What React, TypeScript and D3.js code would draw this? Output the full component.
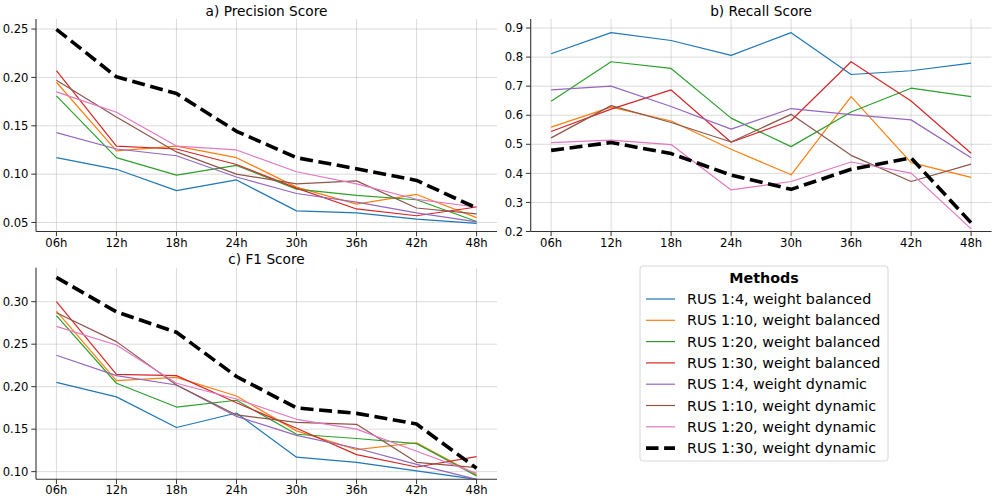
import React from "react";
import * as d3 from "d3";

const hours = ["06h", "12h", "18h", "24h", "30h", "36h", "42h", "48h"];

const methods = [
  "RUS 1:4, weight balanced",
  "RUS 1:10, weight balanced",
  "RUS 1:20, weight balanced",
  "RUS 1:30, weight balanced",
  "RUS 1:4, weight dynamic",
  "RUS 1:10, weight dynamic",
  "RUS 1:20, weight dynamic",
  "RUS 1:30, weight dynamic",
];

const precisionScores = [
  [0.117, 0.105, 0.083, 0.094, 0.062, 0.06, 0.0535, 0.049],
  [0.195, 0.124, 0.129, 0.117, 0.0866, 0.069, 0.079, 0.055],
  [0.181, 0.117, 0.099, 0.109, 0.0845, 0.078, 0.0735, 0.051],
  [0.207, 0.129, 0.126, 0.11, 0.0856, 0.064, 0.057, 0.066],
  [0.143, 0.126, 0.119, 0.097, 0.08, 0.071, 0.06, 0.0507],
  [0.197, 0.159, 0.123, 0.1, 0.09, 0.093, 0.065, 0.059],
  [0.185, 0.164, 0.129, 0.125, 0.1025, 0.09, 0.074, 0.066],
  [0.2497, 0.2006, 0.1833, 0.1443, 0.117, 0.1056, 0.0935, 0.065],
];

const recallScores = [
  [0.8115, 0.884, 0.857, 0.806, 0.884, 0.74, 0.753, 0.779],
  [0.559, 0.628, 0.58, 0.483, 0.395, 0.664, 0.437, 0.386],
  [0.648, 0.784, 0.761, 0.59, 0.492, 0.611, 0.693, 0.664],
  [0.544, 0.621, 0.687, 0.507, 0.582, 0.784, 0.649, 0.469],
  [0.687, 0.7, 0.63, 0.552, 0.623, 0.602, 0.584, 0.454],
  [0.522, 0.633, 0.575, 0.508, 0.603, 0.462, 0.372, 0.432],
  [0.506, 0.514, 0.499, 0.343, 0.372, 0.439, 0.401, 0.209],
  [0.479, 0.506, 0.468, 0.394, 0.345, 0.414, 0.453, 0.23],
];

const f1Scores = [
  [0.205, 0.188, 0.152, 0.169, 0.117, 0.111, 0.101, 0.091],
  [0.289, 0.207, 0.211, 0.189, 0.148, 0.126, 0.134, 0.096],
  [0.2835, 0.204, 0.176, 0.184, 0.144, 0.139, 0.133, 0.095],
  [0.3, 0.2145, 0.213, 0.181, 0.151, 0.12, 0.1055, 0.1176],
  [0.237, 0.213, 0.202, 0.165, 0.1427, 0.1275, 0.1086, 0.091],
  [0.287, 0.253, 0.202, 0.1667, 0.158, 0.1557, 0.111, 0.1047],
  [0.271, 0.249, 0.204, 0.1855, 0.1616, 0.15, 0.124, 0.098],
  [0.3286, 0.288, 0.264, 0.212, 0.175, 0.1686, 0.156, 0.104],
];

const precisionTicks = [0.05, 0.1, 0.15, 0.2, 0.25];
const recallTicks = [0.2, 0.3, 0.4, 0.5, 0.6, 0.7, 0.8, 0.9];
const f1Ticks = [0.1, 0.15, 0.2, 0.25, 0.3];

const COLORS = ["#1f77b4", "#ff7f0e", "#2ca02c", "#d62728", "#9467bd", "#8c564b", "#e377c2", "#000000"];
const FONT = "DejaVu Sans, Verdana, sans-serif";

type PanelProps = {
  title: string;
  data: number[][];
  ticks: number[];
  fmt: string;
  domain: [number, number];
  left: number;
  right: number;
  top: number;
  bottom: number;
};

function Panel({ title, data, ticks, fmt, domain, left, right, top, bottom }: PanelProps) {
  const x = d3.scalePoint<string>().domain(hours).range([left, right]).padding(0.34);
  const y = d3.scaleLinear().domain(domain).range([bottom, top]);
  const f = d3.format(fmt);
  const line = d3
    .line<number>()
    .x((_, i) => x(hours[i]) as number)
    .y((v) => y(v));
  return (
    <g>
      {/* grid */}
      {ticks.map((t) => (
        <line key={"gy" + t} x1={left} x2={right} y1={y(t)} y2={y(t)} stroke="#b0b0b0" strokeOpacity={0.45} strokeWidth={1} />
      ))}
      {hours.map((h) => (
        <line key={"gx" + h} x1={x(h)} x2={x(h)} y1={top} y2={bottom} stroke="#b0b0b0" strokeOpacity={0.45} strokeWidth={1} />
      ))}
      {/* series */}
      {data.map((s, i) => (
        <path
          key={"s" + i}
          d={line(s) || ""}
          fill="none"
          stroke={COLORS[i]}
          strokeWidth={i === 7 ? 3.6 : 1.2}
          strokeDasharray={i === 7 ? "13,5.6" : undefined}
          strokeLinejoin="round"
        />
      ))}
      {/* spines */}
      <line x1={left} x2={left} y1={top} y2={bottom} stroke="#333" strokeWidth={1.1} />
      <line x1={left} x2={right} y1={bottom} y2={bottom} stroke="#333" strokeWidth={1.1} />
      {/* y ticks */}
      {ticks.map((t) => (
        <g key={"ty" + t}>
          <line x1={left - 4.7} x2={left} y1={y(t)} y2={y(t)} stroke="#333" strokeWidth={1} />
          <text x={left - 7.5} y={y(t)} dy="0.36em" textAnchor="end" fontFamily={FONT} fontSize={11.6} fill="#000">
            {f(t)}
          </text>
        </g>
      ))}
      {/* x ticks */}
      {hours.map((h) => (
        <g key={"tx" + h}>
          <line x1={x(h)} x2={x(h)} y1={bottom} y2={bottom + 4.7} stroke="#333" strokeWidth={1} />
          <text x={x(h)} y={bottom + 15} textAnchor="middle" fontFamily={FONT} fontSize={11.6} fill="#000">
            {h}
          </text>
        </g>
      ))}
      <text x={(left + right) / 2} y={top - 3.5} textAnchor="middle" fontFamily={FONT} fontSize={13.7} fill="#000">
        {title}
      </text>
    </g>
  );
}

function Legend() {
  const lx = 640;
  const ly = 266;
  return (
    <g>
      <rect x={lx} y={ly} width={248} height={195} rx={3} fill="#fff" fillOpacity={0.8} stroke="#d6d6d6" strokeWidth={1} />
      <text x={lx + 124} y={ly + 17} textAnchor="middle" fontFamily={FONT} fontWeight="bold" fontSize={14.3} fill="#000">
        Methods
      </text>
      {methods.map((m, i) => {
        const yy = ly + 33 + i * 21.3;
        return (
          <g key={"l" + i}>
            <line
              x1={lx + 6}
              x2={lx + 35}
              y1={yy}
              y2={yy}
              stroke={COLORS[i]}
              strokeWidth={i === 7 ? 3.6 : 1.2}
              strokeDasharray={i === 7 ? "12.5,5.6" : undefined}
            />
            <text x={lx + 47} y={yy} dy="0.36em" fontFamily={FONT} fontSize={14.3} fill="#000">
              {m}
            </text>
          </g>
        );
      })}
    </g>
  );
}

export default function App() {
  return (
    <svg
      width={997}
      height={501}
      viewBox="0 0 997 501"
      style={{ position: "absolute", left: 0, top: 0, background: "#fff" }}
    >
      <rect x={0} y={0} width={997} height={501} fill="#fff" />
      <Panel
        title="a) Precision Score"
        data={precisionScores}
        ticks={precisionTicks}
        fmt=".2f"
        domain={[0.0407, 0.2604]}
        left={36}
        right={497}
        top={19}
        bottom={231.5}
      />
      <Panel
        title="b) Recall Score"
        data={recallScores}
        ticks={recallTicks}
        fmt=".1f"
        domain={[0.2, 0.931]}
        left={530.7}
        right={991.5}
        top={19}
        bottom={231.5}
      />
      <Panel
        title="c) F1 Score"
        data={f1Scores}
        ticks={f1Ticks}
        fmt=".2f"
        domain={[0.091, 0.34]}
        left={36}
        right={497}
        top={267.7}
        bottom={479.3}
      />
      <Legend />
    </svg>
  );
}
